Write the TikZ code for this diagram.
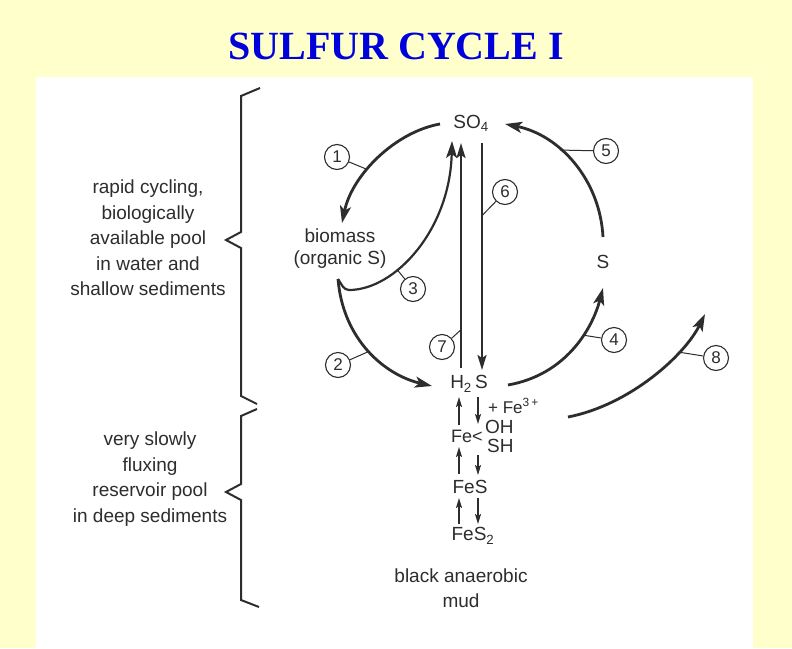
\documentclass[tikz,border=0pt]{standalone}
\usepackage{fontspec}
\setmainfont{Liberation Sans}
\newfontfamily\titlefont{Liberation Serif}
\usetikzlibrary{arrows.meta}
\definecolor{bgyellow}{RGB}{255,255,204}
\definecolor{titleblue}{RGB}{0,0,220}
\definecolor{ink}{RGB}{45,45,45}
\begin{document}
\begin{tikzpicture}[x=1pt,y=-1pt,
  lbl/.style={font=\fontsize{19}{22}\selectfont, text=ink, inner sep=0pt},
  side/.style={font=\fontsize{19}{25.4}\selectfont, text=ink, inner sep=0pt, align=center},
  num/.style={circle, draw=ink, line width=1.1pt, minimum size=25pt, inner sep=0pt, font=\fontsize{17}{17}\selectfont, text=ink},
  flow/.style={draw=ink, line width=2.8pt, -{Stealth[length=17pt,width=11pt,inset=4pt]}},
  vflow/.style={draw=ink, line width=2pt, -{Stealth[length=15pt,width=9pt,inset=3pt]}},
  smallarrow/.style={draw=ink, line width=1.5pt, -{Stealth[length=10pt,width=6pt,inset=2pt]}},
  leader/.style={draw=ink, line width=1pt},
  brace/.style={draw=ink, line width=2pt, line join=miter}
]
\useasboundingbox (0,0) rectangle (792,648);
\fill[bgyellow] (0,0) rectangle (792,648);
\fill[white] (36,77) rectangle (753,648);
\node[font=\titlefont\bfseries\fontsize{40}{40}\selectfont, text=titleblue] (title) at (396,46) {SULFUR CYCLE I};

% main labels
\node[lbl] (so4) at (471,123) {SO\textsubscript{4}};
\node[lbl, align=center] (bio) at (340,249) {biomass\\(organic S)};
\node[lbl] (s) at (603,262) {S};
\node[lbl] (h2s) at (469,384) {H\textsubscript{2}\,S};
\node[lbl, anchor=west, font=\fontsize{17}{17}\selectfont] (fe3) at (488,406) {+ Fe\textsuperscript{3\,+}};
\node[lbl, anchor=west, font=\fontsize{18}{18}\selectfont] (fe) at (451,436) {Fe<};
\node[lbl, anchor=west] (oh) at (485,427) {OH};
\node[lbl, anchor=west] (sh) at (487,446) {SH};
\node[lbl] (fes) at (470,487) {FeS};
\node[lbl] (fes2) at (473,536) {FeS\textsubscript{2}};
\node[side] (mud) at (461,588) {black anaerobic\\mud};
\node[side] (rapid) at (148,238) {rapid cycling,\\biologically\\available pool\\in water and\\shallow sediments};
\node[side] (slow) at (150,479) {very slowly\\fluxing\\reservoir pool\\in deep sediments};

% braces
\draw[brace] (260,88) -- (241,96) -- (241,232) -- (226,240) -- (241,248) -- (241,396) -- (257,404);
\draw[brace] (257,409) -- (241,416) -- (241,484) -- (226,492) -- (241,500) -- (241,600) -- (259,607);

% connector end points
\coordinate (so4L) at (440,124);
\coordinate (so4R) at (505,124);
\coordinate (bioT) at (342,223);
\coordinate (bioB) at (338,279);
\coordinate (bioC) at (345,290);
\coordinate (sT) at (603,237);
\coordinate (sB) at (603,288);
\coordinate (h2sL) at (432,386);
\coordinate (h2sR) at (508,385);
\coordinate (h2sT7) at (461,368);
\coordinate (so4B7) at (461,143);
\coordinate (so4B3) at (452,141);
\coordinate (so4B6) at (482,143);
\coordinate (h2sT6) at (482,370);
\coordinate (mudR) at (568,417);
\coordinate (out8) at (705,314);

% cycle arrows
\draw[flow] (so4L) .. controls (395,132) and (352,175) .. coordinate[pos=0.6] (c1) (bioT);
\draw[flow] (sT) .. controls (600,180) and (560,135) .. coordinate[pos=0.62] (c5) (so4R);
\draw[flow] (h2sR) .. controls (565,375) and (592,330) .. coordinate[pos=0.62] (c4) (sB);
\draw[flow] (mudR) .. controls (630,405) and (685,355) .. coordinate[pos=0.7] (c8) (out8);
\draw[flow] (bioB) .. controls (343,340) and (385,375) .. coordinate[pos=0.5] (c2) (h2sL);
\draw[flow, line width=2.2pt, rounded corners=4pt] (bioB) -- (bioC) .. controls (395,290) and (450,230) .. coordinate[pos=0.35] (c3) (so4B3);
\draw[vflow] (h2sT7) -- coordinate[pos=0.17] (c7) (so4B7);
\draw[vflow] (so4B6) -- coordinate[pos=0.32] (c6) (h2sT6);

% number labels
\node[num] (n1) at (337,157) {1};
\node[num] (n2) at (338,365) {2};
\node[num] (n3) at (413,289) {3};
\node[num] (n4) at (614,340) {4};
\node[num] (n5) at (606,151) {5};
\node[num] (n6) at (505,192) {6};
\node[num] (n7) at (442,347) {7};
\node[num] (n8) at (716,358) {8};
\draw[leader] (n1) -- (c1);
\draw[leader] (n2) -- (c2);
\draw[leader] (n3) -- (c3);
\draw[leader] (n4) -- (c4);
\draw[leader] (n5) -- (c5);
\draw[leader] (n6) -- (c6);
\draw[leader] (n7) -- (c7);
\draw[leader] (n8) -- (c8);

% small reaction arrows
\coordinate (u1s) at (459,425); \coordinate (u1e) at (459,397);
\coordinate (d1s) at (478,397); \coordinate (d1e) at (478,424);
\coordinate (u2s) at (459,474); \coordinate (u2e) at (459,447);
\coordinate (d2s) at (478,455); \coordinate (d2e) at (478,475);
\coordinate (u3s) at (459,524); \coordinate (u3e) at (459,498);
\coordinate (d3s) at (478,498); \coordinate (d3e) at (478,524);
\draw[smallarrow] (u1s) -- (u1e);
\draw[smallarrow] (d1s) -- (d1e);
\draw[smallarrow] (u2s) -- (u2e);
\draw[smallarrow] (d2s) -- (d2e);
\draw[smallarrow] (u3s) -- (u3e);
\draw[smallarrow] (d3s) -- (d3e);
\end{tikzpicture}
\end{document}
